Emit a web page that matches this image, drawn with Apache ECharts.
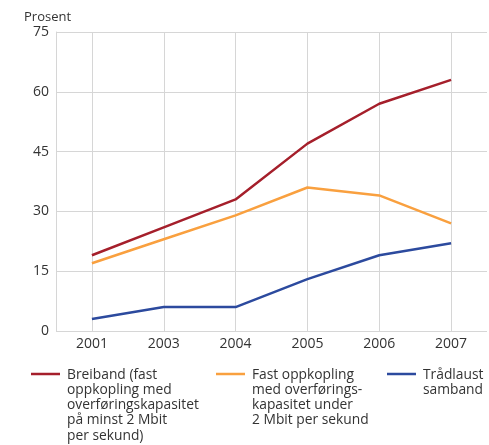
<!DOCTYPE html>
<html lang="no">
<head>
<meta charset="UTF-8">
<title>Prosent</title>
<script src="https://cdn.jsdelivr.net/npm/echarts@6/dist/echarts.min.js"></script>
<style>
  html, body { margin: 0; padding: 0; background: #fff; }
  #main { width: 489px; height: 445px; }
</style>
</head>
<body>
<div id="main"></div>
<script>
// data
var years = ['2001', '2003', '2004', '2005', '2006', '2007'];
var breiband = [19, 26, 33, 47, 57, 63];
var fastUnder = [17, 23, 29, 36, 34, 27];
var traadlaust = [3, 6, 6, 13, 19, 22];
var yTicks = [0, 15, 30, 45, 60, 75];

var names = [
  'Breiband (fast\noppkopling med\noverføringskapasitet\npå minst 2 Mbit\nper sekund)',
  'Fast oppkopling\nmed overførings-\nkapasitet under\n2 Mbit per sekund',
  'Trådlaust\nsamband'
];
var colors = ['#a51f2b', '#f9a03f', '#2c4a9e'];
var legendX = [31, 216, 387];

var font = '"Open Sans", sans-serif';
var chart = echarts.init(document.getElementById('main'));

// legend drawn by hand so the line sits beside the first text row
var legendParts = [];
names.forEach(function (n, i) {
  legendParts.push({
    type: 'line',
    shape: { x1: legendX[i], y1: 374, x2: legendX[i] + 29, y2: 374 },
    style: { stroke: colors[i], lineWidth: 2.5 }
  });
  legendParts.push({
    type: 'text',
    left: legendX[i] + 36,
    top: 367,
    style: { text: n, font: '13.8px ' + font, fill: '#333', lineHeight: 15.3 }
  });
});

var option = {
  animation: false,
  textStyle: { fontFamily: font },
  grid: { left: 56, top: 32, right: 2, bottom: 114 },
  xAxis: {
    type: 'category',
    data: years,
    boundaryGap: true,
    axisLine: { show: false },
    axisTick: { show: false },
    axisLabel: { color: '#333', fontSize: 14, margin: 6 },
    splitLine: { show: true, alignWithLabel: true, lineStyle: { color: '#d6d6d6', width: 1 } }
  },
  yAxis: {
    type: 'value',
    min: yTicks[0],
    max: yTicks[yTicks.length - 1],
    interval: 15,
    name: 'Prosent',
    nameLocation: 'end',
    nameGap: 8,
    nameTextStyle: { color: '#333', fontSize: 13, align: 'left', padding: [0, 0, 0, -32] },
    axisLine: { show: true, lineStyle: { color: '#d6d6d6' } },
    axisTick: { show: false },
    axisLabel: { color: '#333', fontSize: 14, margin: 7 },
    splitLine: { lineStyle: { color: '#d6d6d6', width: 1 } }
  },
  graphic: legendParts,
  series: [
    { name: names[0], type: 'line', data: breiband },
    { name: names[1], type: 'line', data: fastUnder },
    { name: names[2], type: 'line', data: traadlaust }
  ].map(function (s, i) {
    s.symbol = 'none';
    s.lineStyle = { color: colors[i], width: 2.5 };
    s.itemStyle = { color: colors[i] };
    return s;
  })
};
chart.setOption(option);
</script>
</body>
</html>
